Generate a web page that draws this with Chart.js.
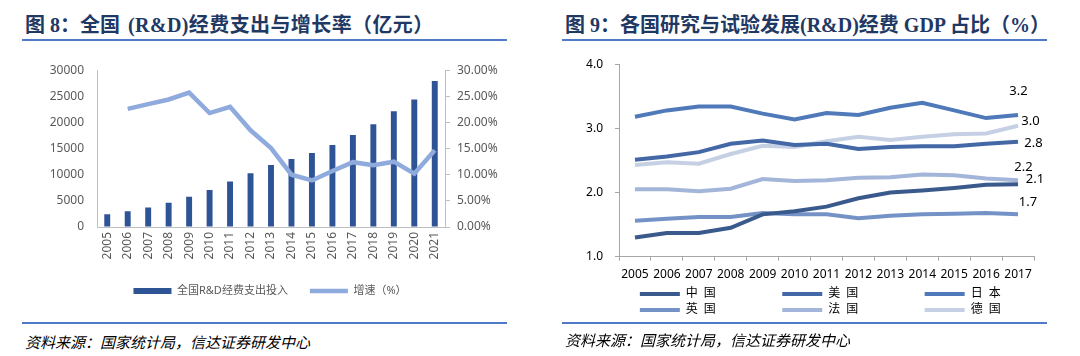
<!DOCTYPE html>
<html><head><meta charset="utf-8">
<script src="https://cdn.jsdelivr.net/npm/chart.js@4"></script>
<style>
html,body{margin:0;padding:0;}
body{width:1080px;height:356px;background:#fff;position:relative;overflow:hidden;font-family:"Noto Sans","Noto Sans CJK SC",sans-serif;}
.title{position:absolute;top:11px;font-family:"Liberation Serif","Noto Sans CJK SC",serif;font-weight:bold;font-size:20px;line-height:28px;color:#1F3864;white-space:nowrap;text-spacing-trim:space-all;}
.rule{position:absolute;height:2px;background:#4F7AC7;}
.src{position:absolute;font-family:"Noto Sans CJK SC",sans-serif;font-style:italic;font-size:15px;line-height:20px;color:#000;white-space:nowrap;}
.wrap{position:absolute;}
</style>
</head><body>
<div class="title" style="left:25px;">图</div>
<div class="title" style="left:50px;">8：</div>
<div class="title" style="left:80px;">全国</div>
<div class="title" style="left:128px;letter-spacing:0.4px;">(R&amp;D)经费支出与增长率（亿元）</div>
<div class="rule" style="left:22px;width:485px;top:38.5px;"></div>
<div class="title" style="left:565px;">图 9：各国研究与试验发展(R&amp;D)经费 GDP 占比（%）</div>
<div class="rule" style="left:562px;width:485px;top:38.5px;"></div>

<div class="wrap" style="left:0;top:50px;width:540px;height:262px;"><canvas id="c1" width="540" height="262"></canvas></div>
<div class="wrap" style="left:540px;top:45px;width:540px;height:285px;"><canvas id="c2" width="540" height="285"></canvas></div>

<div class="rule" style="left:22px;width:485px;top:322px;"></div>
<div class="rule" style="left:562px;width:485px;top:321.5px;"></div>
<div class="src" style="left:25px;top:331.5px;">资料来源：国家统计局，信达证券研发中心</div>
<div class="src" style="left:565px;top:330px;">资料来源：国家统计局，信达证券研发中心</div>

<script>
// ---------- Data: Figure 8 ----------
const years8 = ['2005','2006','2007','2008','2009','2010','2011','2012','2013','2014','2015','2016','2017','2018','2019','2020','2021'];
const rdSpend = [2450,3003,3710,4616,5802,7063,8687,10298,11847,13016,14170,15677,17606,19678,22144,24393,27956];
const rdGrowth = [null,22.6,23.5,24.4,25.7,21.8,23.0,18.5,15.1,10.0,8.9,10.7,12.4,11.8,12.5,10.2,14.7];
const leftTicks = {min:0,max:30000,step:5000};
const rightTicks = {min:0,max:30,step:5};

// ---------- Data: Figure 9 ----------
const years9 = ['2005','2006','2007','2008','2009','2010','2011','2012','2013','2014','2015','2016','2017'];
const china   = [1.30,1.37,1.37,1.45,1.66,1.71,1.78,1.91,2.00,2.03,2.07,2.12,2.13];
const usa     = [2.51,2.56,2.63,2.76,2.81,2.74,2.76,2.68,2.71,2.72,2.72,2.76,2.79];
const japan   = [3.18,3.28,3.34,3.34,3.23,3.14,3.24,3.21,3.32,3.40,3.28,3.16,3.21];
const uk      = [1.56,1.59,1.62,1.62,1.68,1.66,1.66,1.60,1.64,1.66,1.67,1.68,1.66];
const france  = [2.05,2.05,2.02,2.06,2.21,2.18,2.19,2.23,2.24,2.28,2.27,2.22,2.19];
const germany = [2.43,2.47,2.45,2.60,2.73,2.71,2.80,2.87,2.82,2.87,2.91,2.92,3.04];
const countryNames = ['中\u2002国','美\u2002国','日\u2002本','英\u2002国','法\u2002国','德\u2002国'];
const gdpTicks = {min:1,max:4,step:1};

const FAMILY = '"Noto Sans", "Noto Sans CJK SC", sans-serif';
Chart.defaults.font.family = FAMILY;
Chart.defaults.animation = false;

// ---------- Chart 1 ----------
new Chart(document.getElementById('c1'), {
  type: 'bar',
  data: {
    labels: years8,
    datasets: [
      {type:'bar', label:'全国R&D经费支出投入', data: rdSpend, backgroundColor:'#2F5496', borderWidth:0,
       barPercentage:0.29, categoryPercentage:1, yAxisID:'y', order:2},
      {type:'line', label:'增速（%）', data: rdGrowth, borderColor:'#8FAADC', backgroundColor:'#8FAADC',
       borderWidth:4.5, pointRadius:0, tension:0, yAxisID:'y1', order:1}
    ]
  },
  options: {
    responsive:false,
    devicePixelRatio:1,
    layout:{padding:{left:0,right:0,top:18,bottom:5.5}},
    plugins:{
      tooltip:{enabled:false},
      legend:{
        position:'bottom',
        labels:{
          usePointStyle:true, pointStyleWidth:38, boxHeight:6, padding:22,
          color:'#595959', font:{size:11},
          sort:(a,b)=>a.datasetIndex-b.datasetIndex,
          generateLabels(chart){
            const items = Chart.defaults.plugins.legend.labels.generateLabels(chart);
            items.forEach(it=>{ it.pointStyle = it.datasetIndex===0 ? 'rect' : 'line'; });
            return items;
          }
        }
      }
    },
    scales:{
      x:{
        offset:true,
        grid:{display:false, drawTicks:false},
        border:{display:true, color:'#BFBFBF'},
        ticks:{minRotation:90, maxRotation:90, autoSkip:false, padding:5, color:'#595959', font:{size:12}},
        afterFit(s){ s.height = 36.5; }
      },
      y:{
        position:'left', min:leftTicks.min, max:leftTicks.max,
        grid:{drawOnChartArea:false, drawTicks:false},
        border:{display:true, color:'#BFBFBF'},
        ticks:{stepSize:leftTicks.step, padding:13, color:'#595959', font:{size:12},
               callback:v=>String(Math.round(v))},
        afterFit(s){ s.width = 97; }
      },
      y1:{
        position:'right', min:rightTicks.min, max:rightTicks.max,
        grid:{drawOnChartArea:false, drawTicks:true, tickLength:5, color:'#BFBFBF'},
        border:{display:true, color:'#BFBFBF'},
        ticks:{stepSize:rightTicks.step, padding:7, color:'#595959', font:{size:12},
               callback:v=>Number(v).toFixed(2)+'%'},
        afterFit(s){ s.width = 95; }
      }
    }
  }
});

// ---------- Chart 2 ----------
const lineColors = ['#3A5A8C','#4468A6','#5079B9','#7592C7','#A3B5D8','#C6D0E4'];
const series9 = [china, usa, japan, uk, france, germany];
const endOffsets = [[17,-4.5],[15.5,1.5],[0.5,-23.3],[10,-12],[5.5,-13.4],[12.5,-5]];

const endLabelPlugin = {
  id:'endLabels',
  afterDatasetsDraw(chart){
    const ctx = chart.ctx;
    ctx.save();
    ctx.font = '13px ' + FAMILY;
    ctx.fillStyle = '#000';
    ctx.textAlign = 'center';
    ctx.textBaseline = 'middle';
    chart.data.datasets.forEach((ds,i)=>{
      const meta = chart.getDatasetMeta(i);
      const last = meta.data[meta.data.length-1];
      const v = ds.data[ds.data.length-1];
      const off = endOffsets[i];
      ctx.fillText(v.toFixed(1), last.x + off[0], last.y + off[1]);
    });
    ctx.restore();
  }
};

new Chart(document.getElementById('c2'), {
  type:'line',
  data:{
    labels: years9,
    datasets: series9.map((d,i)=>({
      label: countryNames[i], data: d, borderColor: lineColors[i], backgroundColor: lineColors[i],
      borderWidth:4, pointRadius:0, tension:0
    }))
  },
  options:{
    responsive:false,
    devicePixelRatio:1,
    layout:{padding:{left:0,right:46,top:11.7,bottom:4}},
    plugins:{
      tooltip:{enabled:false},
      legend:{
        position:'bottom', fullSize:false,
        labels:{
          usePointStyle:true, pointStyle:'line', pointStyleWidth:40, boxHeight:4, padding:4,
          color:'#000', font:{size:12},
          generateLabels(chart){
            const items = Chart.defaults.plugins.legend.labels.generateLabels(chart);
            const ctx = chart.ctx;
            ctx.save();
            ctx.font = 'normal 12px ' + FAMILY;
            const sp = ctx.measureText(' ').width || 3;
            items.forEach((it,i)=>{
              const target = (i % 3 === 2) ? 44 : 93.5;
              const w = ctx.measureText(it.text).width;
              const n = Math.max(0, Math.round((target - w)/sp));
              it.text = it.text + ' '.repeat(n);
            });
            ctx.restore();
            return items;
          }
        }
      }
    },
    scales:{
      x:{
        offset:true,
        grid:{display:true, drawOnChartArea:false, drawTicks:true, tickLength:4, offset:true, color:'#A6A6A6'},
        border:{display:true, color:'#A6A6A6'},
        ticks:{maxRotation:0, minRotation:0, autoSkip:false, padding:7, color:'#000', font:{size:12}},
        afterFit(s){ s.height = 27.3; }
      },
      y:{
        min:gdpTicks.min, max:gdpTicks.max,
        grid:{drawOnChartArea:false, drawTicks:true, tickLength:4, color:'#A6A6A6'},
        border:{display:true, color:'#A6A6A6'},
        ticks:{stepSize:gdpTicks.step, padding:12, color:'#000', font:{size:12}, callback:v=>Number(v).toFixed(1)},
        afterFit(s){ s.width = 79; }
      }
    }
  },
  plugins:[endLabelPlugin]
});
</script>
</body></html>
